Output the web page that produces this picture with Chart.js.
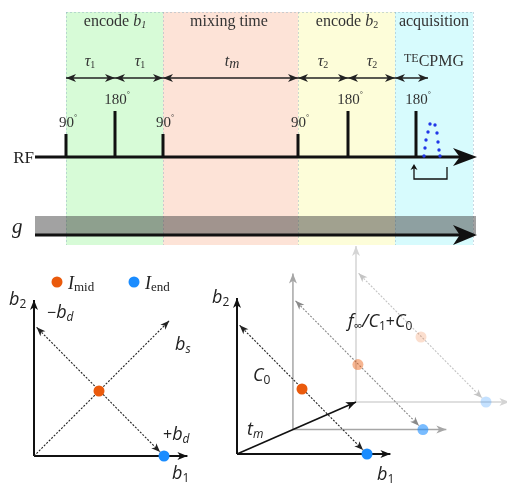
<!DOCTYPE html>
<html>
<head>
<meta charset="utf-8">
<style>
  html, body { margin: 0; padding: 0; background: #fff; }
  #chart { display: block; }
</style>
</head>
<body>
<canvas id="chart" width="507" height="484"></canvas>
<script src="https://cdn.jsdelivr.net/npm/chart.js@4.4.0/dist/chart.umd.min.js"></script>
<script>
// ---- pulse sequence (time axis in drawing units) ----
const phaseEdges = [66, 163, 298, 395, 473];
const pulseTimes = [66, 115, 163, 298, 348, 416];
const pulseAngles = [90, 180, 90, 90, 180, 180];
const delayEdges = [66, 115, 163, 298, 348, 395, 428];
const echoTimes = [424, 425, 426, 428, 430, 435, 437, 438, 439, 440];
const echoAmps = [0, 8, 16, 24, 32, 31, 23, 14, 6, 0];

// ---- b1/b2 diagrams (b-space, 1 = full encoding) ----
const midPoint = [0.5, 0.5];
const endPoint = [1, 0];
const diagStart = [0.02, 0.99];
const diagEnd = [0.97, 0.03];
const sumEnd = [1.04, 1.04];
const axisLen = [1.18, 1.2];
const mixFractions = [1, 0.47, 0];   // back, middle, front frame

const rfLine = 157;
const gLine = 235;
const serif = "'Liberation Serif', 'DejaVu Serif', serif";
const sans = "'Open Sans', 'Noto Sans', sans-serif";

// left diagram and 3d diagram projections
const leftOrigin = { x: 34, y: 456 };
const rightOrigin = { x: 237, y: 454 };
const mixDir = { x: 119, y: -52 };
const unit = 130;
function leftPt(p) { return { x: leftOrigin.x + p[0] * unit, y: leftOrigin.y - p[1] * unit }; }
function rightPt(p, t) {
  return { x: rightOrigin.x + t * mixDir.x + p[0] * unit, y: rightOrigin.y + t * mixDir.y - p[1] * unit };
}

const datasets = [];
function line(pts, opt) {
  datasets.push(Object.assign({
    data: pts, showLine: true, pointRadius: 0, borderColor: '#111', borderWidth: 1.5,
    borderCapStyle: 'butt', tension: 0, fill: false
  }, opt));
}
function dots(pts, color, r) {
  datasets.push({ data: pts, showLine: false, pointRadius: r, pointBackgroundColor: color,
    pointBorderWidth: 0, borderColor: color });
}

// RF line and pulses
line([{ x: 35, y: rfLine }, { x: 465, y: rfLine }], { borderWidth: 3, arrow: { end: true, len: 24, w: 9, ext: 12 } });
pulseTimes.forEach((t, i) => {
  line([{ x: t, y: rfLine + 1 }, { x: t, y: rfLine - pulseAngles[i] / 90 * 23 }], { borderWidth: 3 });
});
// delays
for (let i = 0; i < delayEdges.length - 1; i++) {
  line([{ x: delayEdges[i], y: 78 }, { x: delayEdges[i + 1], y: 78 }],
    { borderWidth: 1.3, borderColor: '#222', arrow: { start: true, end: true, len: 10, w: 4 } });
}
// echo
dots(echoTimes.map((t, i) => ({ x: t, y: rfLine - 1 - echoAmps[i] })), '#2038e8', 1.7);
// bracket
line([{ x: 414, y: 166 }, { x: 414, y: 179 }, { x: 447, y: 179 }, { x: 447, y: 167 }],
  { borderWidth: 1.3, arrow: { start: true, len: 6, w: 3.5, ext: 2 } });
// gradient line
line([{ x: 35, y: gLine }, { x: 465, y: gLine }], { borderWidth: 3, arrow: { end: true, len: 24, w: 10, ext: 12 } });

// left diagram
line([leftPt([0, 0]), leftPt([axisLen[0], 0])], { borderWidth: 2, arrow: { end: true, len: 10, w: 4 } });
line([leftPt([0, 0]), leftPt([0, axisLen[1]])], { borderWidth: 2, arrow: { end: true, len: 10, w: 4 } });
line([leftPt(diagStart), leftPt(diagEnd)], { borderWidth: 1.1, borderColor: '#222', borderDash: [2, 1.5],
  arrow: { start: true, end: true, len: 9, w: 3.5 } });
line([leftPt([0, 0]), leftPt(sumEnd)], { borderWidth: 1.1, borderColor: '#222', borderDash: [2, 1.5],
  arrow: { end: true, len: 9, w: 3.5 } });
dots([leftPt(midPoint)], '#ea5a0c', 5.5);
dots([leftPt(endPoint)], '#1a8cff', 5.5);
// legend markers
dots([{ x: 57, y: 282 }], '#ea5a0c', 5.5);
dots([{ x: 134, y: 282 }], '#1a8cff', 5.5);

// 3d diagram frames
const frameStyle = [
  { axis: '#d4d4d4', dash: '#c4c4c4', a: 0.2 },
  { axis: '#a6a6a6', dash: '#8a8a8a', a: 0.45 },
  { axis: '#111', dash: '#222', a: 1 }
];
mixFractions.forEach((t, k) => {
  const s = frameStyle[k];
  if (k === 2) {
    line([rightPt([0, 0], 0), rightPt([0, 0], mixFractions[0])], { borderWidth: 1.6, arrow: { end: true, len: 10, w: 4 } });
  }
  line([rightPt([0, 0], t), rightPt([axisLen[0], 0], t)], { borderWidth: k === 2 ? 2 : 1.5, borderColor: s.axis, arrow: { end: true, len: 10, w: 4 } });
  line([rightPt([0, 0], t), rightPt([0, axisLen[1]], t)], { borderWidth: k === 2 ? 2 : 1.5, borderColor: s.axis, arrow: { end: true, len: 10, w: 4 } });
  line([rightPt(diagStart, t), rightPt(diagEnd, t)], { borderWidth: 1.1, borderColor: s.dash, borderDash: [2, 1.5],
    arrow: { start: true, end: true, len: 9, w: 3.5 } });
  dots([rightPt(midPoint, t)], 'rgba(234,90,12,' + s.a + ')', 5.5);
  dots([rightPt(endPoint, t)], 'rgba(26,140,255,' + Math.min(1, s.a * 1.3) + ')', 5.5);
});
datasets.forEach((d, i) => { d.order = -i; });

// ---- plugins ----
const backdrop = {
  id: 'backdrop',
  beforeDatasetsDraw(chart) {
    const { ctx, scales: { x, y } } = chart;
    const fills = ['#d7fbd7', '#fde3d7', '#fdfdd9', '#d7fbfd'];
    const top = y.getPixelForValue(12), bot = y.getPixelForValue(245);
    ctx.save();
    for (let i = 0; i < fills.length; i++) {
      const x0 = x.getPixelForValue(phaseEdges[i]), x1 = x.getPixelForValue(phaseEdges[i + 1]);
      ctx.fillStyle = fills[i];
      ctx.fillRect(x0, top, x1 - x0, bot - top);
    }
    ctx.strokeStyle = 'rgba(140,170,190,0.45)';
    ctx.lineWidth = 1;
    ctx.setLineDash([2, 2]);
    ctx.beginPath();
    phaseEdges.forEach(e => { const px = Math.round(x.getPixelForValue(e)) + 0.5; ctx.moveTo(px, top); ctx.lineTo(px, bot); });
    ctx.moveTo(x.getPixelForValue(phaseEdges[0]), top + 0.5);
    ctx.lineTo(x.getPixelForValue(phaseEdges[4]), top + 0.5);
    ctx.stroke();
    ctx.setLineDash([]);
    // gradient bar
    ctx.fillStyle = 'rgba(70,70,70,0.5)';
    const gx0 = x.getPixelForValue(35), gx1 = x.getPixelForValue(476);
    const gy0 = y.getPixelForValue(216), gy1 = y.getPixelForValue(234);
    ctx.fillRect(gx0, gy0, gx1 - gx0, gy1 - gy0);
    ctx.restore();
  }
};

const arrows = {
  id: 'arrows',
  afterDatasetsDraw(chart) {
    const ctx = chart.ctx;
    chart.data.datasets.forEach((ds, i) => {
      if (!ds.arrow) return;
      const pts = chart.getDatasetMeta(i).data;
      const head = (tip, from) => {
        const dx = tip.x - from.x, dy = tip.y - from.y, l = Math.hypot(dx, dy);
        const ux = dx / l, uy = dy / l, e = ds.arrow.ext || 0;
        const tx = tip.x + ux * e, ty = tip.y + uy * e;
        const bx = tx - ux * ds.arrow.len, by = ty - uy * ds.arrow.len;
        const w = ds.arrow.w;
        ctx.beginPath();
        ctx.moveTo(tx, ty);
        ctx.lineTo(bx - uy * w, by + ux * w);
        ctx.lineTo(tx - ux * ds.arrow.len * 0.72, ty - uy * ds.arrow.len * 0.72);
        ctx.lineTo(bx + uy * w, by - ux * w);
        ctx.closePath();
        ctx.fill();
      };
      ctx.save();
      ctx.fillStyle = ds.borderColor;
      const n = pts.length;
      if (ds.arrow.end) head(pts[n - 1], pts[n - 2]);
      if (ds.arrow.start) head(pts[0], pts[1]);
      ctx.restore();
    });
  }
};

// rich text: parts = [text, font, dy]
const labels = [];
function label(x, y, parts, align, color) { labels.push({ x, y, parts, align: align || 'center', color: color || '#333' }); }
const sf = s => s + 'px ' + serif, si = s => 'italic ' + s + 'px ' + serif;
const nf = s => s + 'px ' + sans, ni = s => 'italic ' + s + 'px ' + sans;

label(115, 26, [['encode ', sf(16)], ['b', si(16)], ['1', si(10), 2]]);
label(229, 26, [['mixing time', sf(16)]]);
label(347, 26, [['encode ', sf(16)], ['b', si(16)], ['2', sf(10), 2]]);
label(434, 26, [['acquisition', sf(16)]]);
[[90, '1'], [140, '1'], [323, '2'], [372, '2']].forEach(([cx, s]) => {
  label(cx, 66, [['τ', si(16)], [s, sf(10), 2]]);
});
label(232, 66, [['t', si(16)], ['m', si(14), 2]]);
label(404, 62, [['TE', sf(12)], ['CPMG', sf(16), 4]], 'left');
pulseTimes.forEach((t, i) => {
  label(t + 2, rfLine - pulseAngles[i] / 90 * 23 - 7, [[String(pulseAngles[i]), sf(15)], ['°', sf(8), -7]]);
});
label(34, 163, [['RF', sf(17)]], 'right', '#222');
label(12, 233, [['g', si(21)]], 'left', '#222');

label(68, 289, [['I', si(18)], ['mid', sf(13), 2]], 'left', '#222');
label(145, 289, [['I', si(18)], ['end', sf(13), 2]], 'left', '#222');
label(9, 305, [['b', ni(18)], ['2', nf(12), 3]], 'left', '#222');
label(47, 318, [['−', nf(16)], ['b', ni(18)], ['d', ni(12), 3]], 'left', '#222');
label(175, 350, [['b', ni(18)], ['s', ni(12), 3]], 'left', '#222');
label(163, 440, [['+', nf(16)], ['b', ni(18)], ['d', ni(12), 3]], 'left', '#222');
label(172, 479, [['b', ni(18)], ['1', nf(12), 3]], 'left', '#222');
label(212, 303, [['b', ni(18)], ['2', nf(12), 3]], 'left', '#222');
label(377, 480, [['b', ni(18)], ['1', nf(12), 3]], 'left', '#222');
label(253, 381, [['C', ni(18)], ['0', nf(12), 3]], 'left', '#222');
label(247, 435, [['t', ni(18)], ['m', ni(12), 3]], 'left', '#222');
label(348, 327, [['f', ni(18)], ['∞', nf(12), 3], ['/', ni(18)], ['C', ni(18)], ['1', nf(12), 3], ['+', nf(16)], ['C', ni(18)], ['0', nf(12), 3]], 'left', '#222');

const texts = {
  id: 'texts',
  afterDraw(chart) {
    const { ctx, scales: { x, y } } = chart;
    ctx.save();
    ctx.textBaseline = 'alphabetic';
    ctx.textAlign = 'left';
    labels.forEach(l => {
      let w = 0;
      l.parts.forEach(p => { ctx.font = p[1]; w += ctx.measureText(p[0]).width; });
      let px = x.getPixelForValue(l.x);
      if (l.align === 'center') px -= w / 2; else if (l.align === 'right') px -= w;
      const py = y.getPixelForValue(l.y);
      ctx.fillStyle = l.color;
      l.parts.forEach(p => {
        ctx.font = p[1];
        ctx.fillText(p[0], px, py + (p[2] || 0));
        px += ctx.measureText(p[0]).width;
      });
    });
    ctx.restore();
  }
};

new Chart(document.getElementById('chart'), {
  type: 'scatter',
  data: { datasets },
  options: {
    responsive: false,
    animation: false,
    layout: { padding: 0, autoPadding: false },
    clip: false,
    scales: {
      x: { type: 'linear', min: 0, max: 507, display: false },
      y: { type: 'linear', min: 0, max: 484, reverse: true, display: false }
    },
    plugins: { legend: { display: false }, tooltip: { enabled: false } }
  },
  plugins: [backdrop, arrows, texts]
});
</script>
</body>
</html>
